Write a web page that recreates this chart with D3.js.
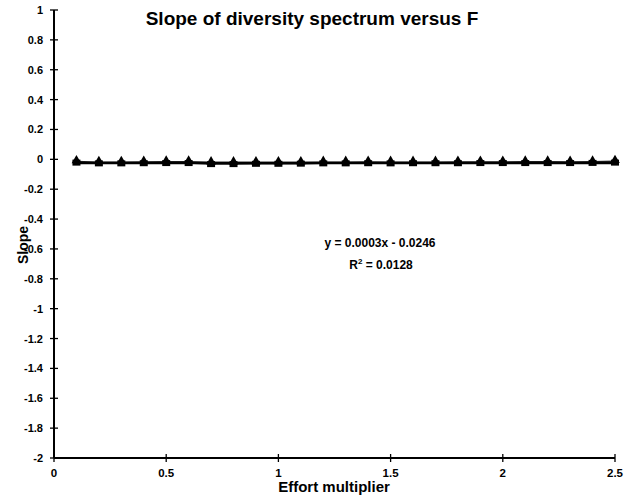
<!DOCTYPE html>
<html>
<head>
<meta charset="utf-8">
<script src="https://cdn.jsdelivr.net/npm/d3@7"></script>
<style>
  html, body { margin: 0; padding: 0; background: #fff; }
  svg text { font-family: "Liberation Sans", Arial, sans-serif; font-weight: bold; fill: #000; }
</style>
</head>
<body>
<svg id="chart" width="629" height="502"></svg>
<script>
// Effort multiplier values
const effort = [0.1,0.2,0.3,0.4,0.5,0.6,0.7,0.8,0.9,1.0,1.1,1.2,1.3,1.4,1.5,1.6,1.7,1.8,1.9,2.0,2.1,2.2,2.3,2.4,2.5];
// Slope series (triangle markers)
const slopeTri = [-0.015,-0.02,-0.02,-0.018,-0.017,-0.016,-0.022,-0.022,-0.021,-0.021,-0.021,-0.019,-0.019,-0.018,-0.019,-0.019,-0.019,-0.018,-0.018,-0.018,-0.017,-0.017,-0.018,-0.017,-0.013];
// Slope series (square markers)
const slopeSq = [-0.022,-0.027,-0.027,-0.026,-0.025,-0.025,-0.032,-0.032,-0.03,-0.03,-0.029,-0.027,-0.027,-0.026,-0.027,-0.026,-0.026,-0.026,-0.025,-0.025,-0.025,-0.025,-0.025,-0.024,-0.022];
// Linear fit
const fitSlope = 0.0003, fitIntercept = -0.0246;
const xTicks = [0, 0.5, 1, 1.5, 2, 2.5];
const yTicks = [1,0.8,0.6,0.4,0.2,0,-0.2,-0.4,-0.6,-0.8,-1,-1.2,-1.4,-1.6,-1.8,-2];

const svg = d3.select("#chart");
const x = d3.scaleLinear().domain([0, 2.5]).range([54, 615]);
const y = d3.scaleLinear().domain([-2, 1]).range([458, 10]);

// y axis
svg.append("line").attr("x1", x(0)).attr("x2", x(0)).attr("y1", y(1)).attr("y2", y(-2))
  .attr("stroke", "#000").attr("stroke-width", 2);
svg.append("g").selectAll("line").data(yTicks).join("line")
  .attr("x1", x(0) - 4).attr("x2", x(0) + 4)
  .attr("y1", d => y(d)).attr("y2", d => y(d))
  .attr("stroke", "#000").attr("stroke-width", 1.3);
svg.append("g").selectAll("text").data(yTicks).join("text")
  .attr("x", 43).attr("y", d => y(d) + 4)
  .attr("text-anchor", "end").attr("font-size", 11)
  .text(d => String(d));

// x axis
svg.append("line").attr("x1", x(0)).attr("x2", x(2.5)).attr("y1", y(-2)).attr("y2", y(-2))
  .attr("stroke", "#000").attr("stroke-width", 2);
svg.append("g").selectAll("line").data(xTicks).join("line")
  .attr("x1", d => x(d)).attr("x2", d => x(d))
  .attr("y1", y(-2) - 4).attr("y2", y(-2) + 4)
  .attr("stroke", "#000").attr("stroke-width", 1.3);
svg.append("g").selectAll("text").data(xTicks).join("text")
  .attr("x", d => x(d)).attr("y", 477)
  .attr("text-anchor", "middle").attr("font-size", 11.5)
  .text(d => d);

// series lines
const seriesLine = d3.line().x((d, i) => x(effort[i])).y(d => y(d));
svg.append("path").datum(slopeTri).attr("d", seriesLine)
  .attr("fill", "none").attr("stroke", "#222").attr("stroke-width", 1.5);
svg.append("path").datum(slopeSq).attr("d", seriesLine)
  .attr("fill", "none").attr("stroke", "#222").attr("stroke-width", 1.5);

// trend line
svg.append("line")
  .attr("x1", x(0.1)).attr("y1", y(fitSlope * 0.1 + fitIntercept))
  .attr("x2", x(2.5)).attr("y2", y(fitSlope * 2.5 + fitIntercept))
  .attr("stroke", "#000").attr("stroke-width", 2.5);

// square markers
svg.append("g").selectAll("rect").data(slopeSq).join("rect")
  .attr("x", (d, i) => x(effort[i]) - 4).attr("y", d => y(d) - 3)
  .attr("width", 8).attr("height", 6).attr("fill", "#000");

// triangle markers
const tri = d3.symbol().type(d3.symbolTriangle).size(40);
svg.append("g").selectAll("path").data(slopeTri).join("path")
  .attr("transform", (d, i) => `translate(${x(effort[i])},${y(d) - 1})`)
  .attr("d", tri).attr("fill", "#000");

// title
svg.append("text").attr("x", 312).attr("y", 25).attr("text-anchor", "middle")
  .attr("font-size", 19).text("Slope of diversity spectrum versus F");

// fit annotation
svg.append("text").attr("x", 380).attr("y", 247).attr("text-anchor", "middle")
  .attr("font-size", 12).text(`y = ${fitSlope}x - ${Math.abs(fitIntercept)}`);
const r2 = svg.append("text").attr("x", 381).attr("y", 269).attr("text-anchor", "middle")
  .attr("font-size", 12);
r2.append("tspan").text("R");
r2.append("tspan").attr("dy", -5).attr("font-size", 8).text("2");
r2.append("tspan").attr("dy", 5).text(" = 0.0128");

// axis titles
svg.append("text").attr("transform", "translate(28,245) rotate(-90)")
  .attr("text-anchor", "middle").attr("font-size", 14).text("Slope");
svg.append("text").attr("x", 334).attr("y", 492).attr("text-anchor", "middle")
  .attr("font-size", 15).text("Effort multiplier");
</script>
</body>
</html>
